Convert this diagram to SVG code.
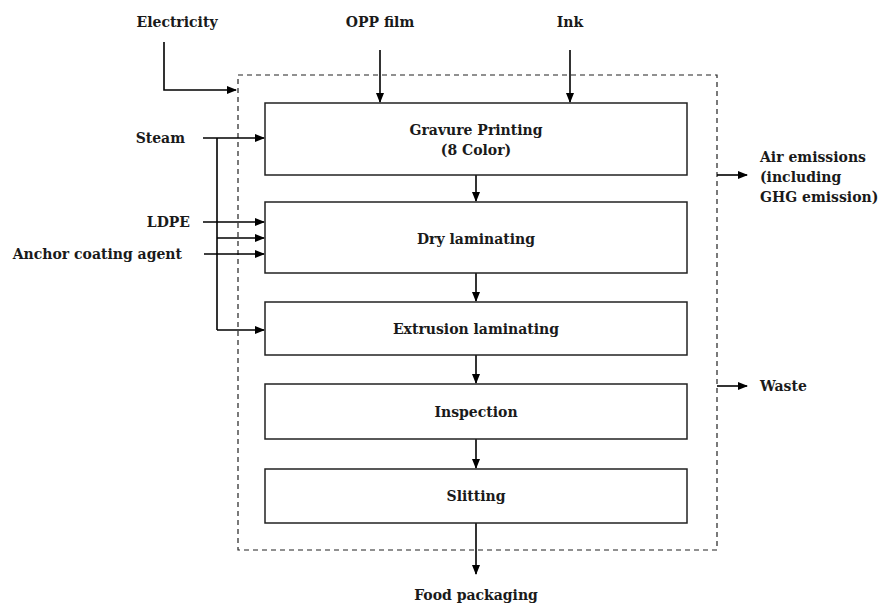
<svg xmlns="http://www.w3.org/2000/svg" width="885" height="606" viewBox="0 0 885 606">
<defs>
<marker id="ah" markerWidth="10" markerHeight="8" refX="9" refY="4" orient="auto" markerUnits="userSpaceOnUse">
<path d="M0,0 L10,4 L0,8 z" fill="#000"/>
</marker>
</defs>
<style>
.t{font-family:"DejaVu Serif","Liberation Serif",serif;font-weight:bold;font-size:14px;fill:#1a1a1a}
.box{fill:#fff;stroke:#222;stroke-width:1.5}
.c{fill:none;stroke:#000;stroke-width:1.6}
.a{marker-end:url(#ah)}
</style>
<rect width="885" height="606" fill="#fff"/>
<rect id="boundary" x="238" y="75" width="479" height="475" fill="none" stroke="#222" stroke-width="1.2" stroke-dasharray="5,4"/>
<g id="connectors">
<path class="c a" d="M164,42 V90 H236"/>
<path class="c a" d="M380,50 V102"/>
<path class="c a" d="M570,50 V102"/>
<path class="c a" d="M203,138 H264"/>
<path class="c" d="M217,138 V330"/>
<path class="c a" d="M217,330 H264"/>
<path class="c a" d="M203,222 H264"/>
<path class="c a" d="M217,238 H264"/>
<path class="c a" d="M204,254 H264"/>
<path class="c a" d="M476,175 V201"/>
<path class="c a" d="M476,273 V301"/>
<path class="c a" d="M476,355 V383"/>
<path class="c a" d="M476,439 V468"/>
<path class="c a" d="M476,523 V574"/>
<path class="c a" d="M717,175 H747"/>
<path class="c a" d="M717,386 H747"/>
</g>
<g id="gravure"><rect class="box" x="265" y="103" width="422" height="72"/>
<text class="t" x="476" y="135" text-anchor="middle">Gravure Printing</text>
<text class="t" x="476" y="155" text-anchor="middle">(8 Color)</text></g>
<g id="dry"><rect class="box" x="265" y="202" width="422" height="71"/>
<text class="t" x="476" y="244" text-anchor="middle">Dry laminating</text></g>
<g id="extrusion"><rect class="box" x="265" y="302" width="422" height="53"/>
<text class="t" x="476" y="334" text-anchor="middle">Extrusion laminating</text></g>
<g id="inspection"><rect class="box" x="265" y="384" width="422" height="55"/>
<text class="t" x="476" y="417" text-anchor="middle">Inspection</text></g>
<g id="slitting"><rect class="box" x="265" y="469" width="422" height="54"/>
<text class="t" x="476" y="501" text-anchor="middle">Slitting</text></g>
<g id="electricity"><text class="t" x="177" y="27" text-anchor="middle">Electricity</text></g>
<g id="opp"><text class="t" x="380" y="27" text-anchor="middle">OPP film</text></g>
<g id="ink"><text class="t" x="570" y="27" text-anchor="middle">Ink</text></g>
<g id="steam"><text class="t" x="185" y="143" text-anchor="end">Steam</text></g>
<g id="ldpe"><text class="t" x="190" y="227" text-anchor="end">LDPE</text></g>
<g id="anchor"><text class="t" x="182" y="259" text-anchor="end">Anchor coating agent</text></g>
<g id="air"><text class="t" x="760" y="162">Air emissions</text>
<text class="t" x="760" y="182">(including</text>
<text class="t" x="760" y="202">GHG emission)</text></g>
<g id="waste"><text class="t" x="760" y="391">Waste</text></g>
<g id="food"><text class="t" x="476" y="600" text-anchor="middle">Food packaging</text></g>
</svg>
